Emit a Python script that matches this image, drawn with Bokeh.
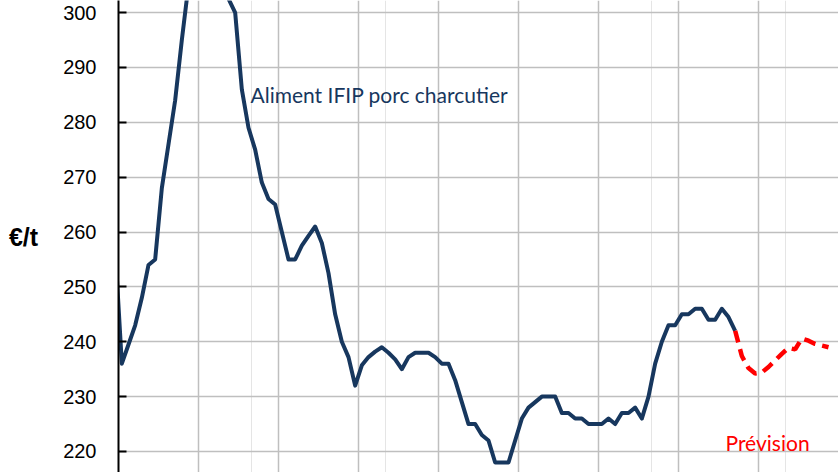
from bokeh.plotting import figure
from bokeh.models import Range1d, FixedTicker, Grid, Label
from bokeh.embed import file_html
from bokeh.resources import INLINE

# monthly index (0 = first month after the axis)
months_hist = list(range(-1, 93))
feed_price = [257, 236, 239.5, 243, 248, 254, 255, 268, 276, 284, 295, 305, 312, 317, 319, 316, 310, 302.5,
              300, 286, 279, 275, 269, 266, 265, 260, 255, 255, 257.5, 259.3, 261, 258, 252.5, 245, 240,
              237.2, 232, 235.7, 237.2, 238.2, 239, 238, 236.8, 235, 237.2, 238, 238, 238, 237.2, 236, 236,
              233, 229, 225, 225, 223, 222, 218, 218, 218, 222, 226, 228, 229, 230, 230, 230, 227, 227,
              226, 226, 225, 225, 225, 226, 225, 227, 227, 228, 226, 230, 236, 240, 243, 243, 245, 245,
              246, 246, 244, 244, 246, 244.5, 242]
months_fc = list(range(92, 107))
forecast = [242, 237.4, 235.2, 234.2, 234.4, 235.4, 236.6, 237.8, 238.9, 238.6, 240.6, 240.2, 239.6, 239.3, 239.0]
y_ticks = [220, 230, 240, 250, 260, 270, 280, 290, 300]
x_grid = [0, 12, 24, 36, 48, 60, 72, 84, 96, 108]

OFF = 0.5
xh = [m + OFF for m in months_hist]
xf = [m + OFF for m in months_fc]

p = figure(width=838, height=472, output_backend="svg", toolbar_location=None,
           x_range=Range1d(0, 108), y_range=Range1d(216.17, 302.19),
           x_axis_location=None, min_border_left=118, min_border_right=0,
           min_border_top=0, min_border_bottom=0)
p.outline_line_color = None
p.background_fill_color = "white"
p.border_fill_color = "white"

p.ygrid.ticker = FixedTicker(ticks=y_ticks)
p.ygrid.grid_line_color = "#BFBFBF"
p.ygrid.grid_line_width = 1.5
p.add_layout(Grid(dimension=0, ticker=FixedTicker(ticks=x_grid),
                  grid_line_color="#BFBFBF", grid_line_width=1.5))

ax = p.yaxis[0]
ax.ticker = FixedTicker(ticks=y_ticks)
ax.axis_line_color = "black"
ax.axis_line_width = 2
ax.major_tick_in = 8
ax.major_tick_out = 0
ax.major_tick_line_width = 2
ax.minor_tick_line_color = None
ax.major_label_standoff = 22
ax.major_label_text_font = "Liberation Sans"
ax.major_label_text_font_size = "20px"
ax.major_label_text_color = "black"
ax.axis_label = "€/t"
ax.axis_label_orientation = "horizontal"
ax.axis_label_text_font = "Liberation Sans"
ax.axis_label_text_font_style = "bold"
ax.axis_label_text_font_size = "25px"
ax.axis_label_standoff = 22
ax.axis_label_text_color = "black"

p.line(xh, feed_price, line_color="#17375E", line_width=4, line_join="round")
p.line(xf, forecast, line_color="#FF0000", line_width=4.5, line_dash="12 7")

p.add_layout(Label(x=19.8, y=285.1, text="Aliment IFIP porc charcutier",
                   text_font="Lato", text_font_size="21px", text_color="#17375E",
                   text_baseline="alphabetic"))
p.add_layout(Label(x=91.05, y=221.55, text="Prévision",
                   text_font="Lato", text_font_size="21px", text_color="#FF0000",
                   text_baseline="alphabetic"))

open("out.html", "w").write(file_html(p, INLINE))
